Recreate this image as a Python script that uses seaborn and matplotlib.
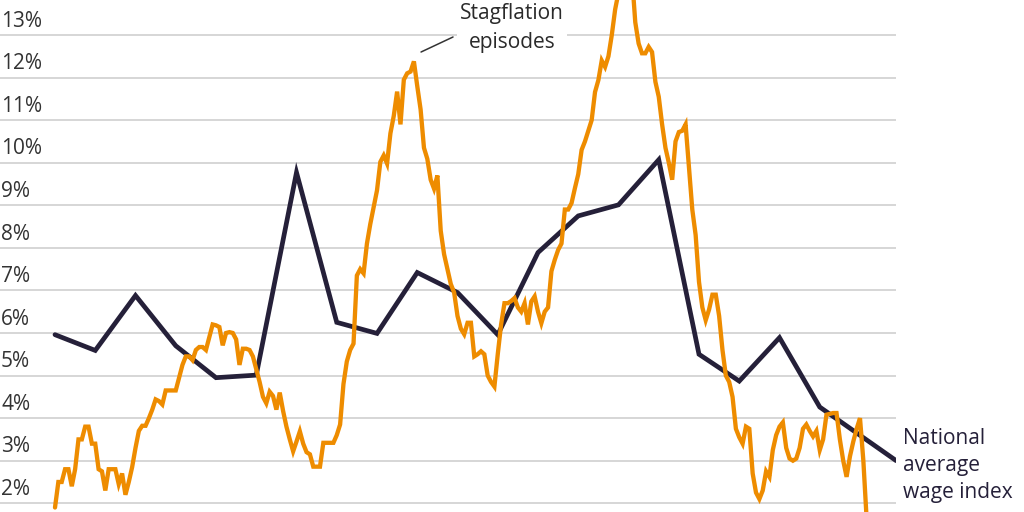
import matplotlib
matplotlib.use("Agg")
import matplotlib.pyplot as plt
import matplotlib.transforms as mtransforms
import numpy as np
import pandas as pd
import seaborn as sns

# year-over-year consumer price change, monthly from Jan 1966
cpi_start = 1966
cpi_monthly = [
    1.9, 2.5, 2.5, 2.8, 2.8, 2.4, 2.8, 3.5, 3.5, 3.8, 3.8, 3.4,            # 1966
    3.4, 2.8, 2.75, 2.3, 2.8, 2.8, 2.8, 2.45, 2.7, 2.2, 2.5, 2.85,         # 1967
    3.3, 3.7, 3.82, 3.82, 4.0, 4.2, 4.44, 4.4, 4.32, 4.65, 4.65, 4.65,     # 1968
    4.65, 4.95, 5.25, 5.45, 5.45, 5.36, 5.6, 5.67, 5.67, 5.6, 5.9, 6.2,    # 1969
    6.18, 6.14, 5.71, 6.0, 6.02, 6.0, 5.85, 5.25, 5.63, 5.63, 5.6, 5.45,   # 1970
    5.15, 4.85, 4.5, 4.35, 4.62, 4.52, 4.2, 4.6, 4.17, 3.8, 3.5, 3.22,     # 1971
    3.45, 3.69, 3.4, 3.2, 3.15, 2.86, 2.86, 2.86, 3.42, 3.42, 3.42, 3.42,  # 1972
    3.6, 3.85, 4.8, 5.33, 5.6, 5.75, 7.35, 7.5, 7.4, 8.1, 8.56, 8.95,      # 1973
    9.35, 10.02, 10.17, 9.98, 10.69, 11.1, 11.67, 10.9, 11.95, 12.1, 12.14, 12.38,  # 1974
    11.8, 11.25, 10.35, 10.09, 9.6, 9.39, 9.7, 8.4, 7.85, 7.5, 7.15, 6.95,  # 1975
    6.4, 6.1, 5.97, 6.24, 6.24, 5.45, 5.5, 5.57, 5.5, 5.0, 4.85, 4.74,     # 1976
    5.5, 6.2, 6.7, 6.7, 6.75, 6.82, 6.6, 6.5, 6.7, 6.2, 6.74, 6.86,        # 1977
    6.5, 6.23, 6.5, 6.6, 7.45, 7.72, 7.95, 8.1, 8.9, 8.9, 9.05, 9.4,       # 1978
    9.73, 10.3, 10.5, 10.75, 11.0, 11.66, 11.94, 12.4, 12.25, 12.5, 13.0, 13.6,  # 1979
    14.0, 14.3, 14.7, 14.7, 14.4, 13.3, 12.8, 12.57, 12.57, 12.72, 12.6, 11.9,   # 1980
    11.55, 10.9, 10.35, 10.0, 9.6, 10.5, 10.72, 10.75, 10.9, 9.9, 8.9, 8.3,      # 1981
    7.2, 6.6, 6.3, 6.55, 6.9, 6.9, 6.4, 5.6, 5.0, 4.85, 4.5, 3.75,         # 1982
    3.55, 3.4, 3.8, 3.75, 2.7, 2.25, 2.1, 2.3, 2.75, 2.62, 3.25, 3.6,      # 1983
    3.8, 3.9, 3.3, 3.05, 3.0, 3.05, 3.3, 3.75, 3.85, 3.7, 3.57, 3.7,       # 1984
    3.25, 3.5, 4.08, 4.1, 4.12, 4.12, 3.5, 3.0, 2.62, 3.1, 3.45, 3.75,     # 1985
    4.0, 3.0, 1.6,                                                          # 1986
]

# national average wage index, annual growth
wage_years = [1966, 1967, 1968, 1969, 1970, 1971, 1972, 1973, 1974, 1975, 1976,
              1977, 1978, 1979, 1980, 1981, 1982, 1983, 1984, 1985, 1986.9]
wage_growth = [5.96, 5.59, 6.88, 5.70, 4.95, 5.01, 9.77, 6.25, 5.99, 7.42, 6.95,
               5.96, 7.89, 8.75, 9.01, 10.07, 5.50, 4.87, 5.89, 4.26, 3.00]

tick_values = [2, 3, 4, 5, 6, 7, 8, 9, 10, 11, 12, 13]
tick_labels = ["2%", "3%", "4%", "5%", "6%", "7%", "8%", "9%", "10%", "11%", "12%", "13%"]

ORANGE = "#ee8c00"
NAVY = "#252039"
TEXT = "#2a2a2a"

sns.set_style("white")
plt.rcParams["font.family"] = ["Open Sans", "DejaVu Sans"]

fig = plt.figure(figsize=(10.24, 5.12), dpi=100)
ax = fig.add_axes([0, 0, 896 / 1024, 1])

cpi = pd.DataFrame({"year": cpi_start + np.arange(len(cpi_monthly)) / 12,
                    "pct": cpi_monthly})
wage = pd.DataFrame({"year": wage_years, "pct": wage_growth})

sns.lineplot(data=wage, x="year", y="pct", color=NAVY, lw=3.4, ax=ax,
             zorder=3, solid_joinstyle="miter")
sns.lineplot(data=cpi, x="year", y="pct", color=ORANGE, lw=3.1, ax=ax,
             zorder=4, solid_joinstyle="miter")

x0 = 1966 - 55 / 40.25
ax.set_xlim(x0, x0 + 896 / 40.25)
ax.set_ylim(13.822 - 512 / 42.57, 13.822)

ax.set_yticks(tick_values)
ax.grid(axis="y", color="#d3d3d3", lw=1.3, zorder=1)
ax.grid(axis="x", visible=False)
ax.tick_params(left=False, bottom=False, labelleft=False, labelbottom=False)
ax.set_xlabel("")
ax.set_ylabel("")
sns.despine(ax=ax, left=True, bottom=True)

lab_trans = mtransforms.offset_copy(ax.get_yaxis_transform(), fig=fig,
                                    x=1, y=8.3, units="dots")
for v, lab in zip(tick_values, tick_labels):
    ax.text(0, v, lab, transform=lab_trans, ha="left", va="baseline",
            fontsize=15, color="#333333", zorder=5)

# va="baseline" anchors the last line of a multi-line text
ax.text(1977.354, 12.687, "Stagflation\nepisodes", ha="center", va="baseline",
        fontsize=15, color=TEXT, linespacing=1.5, zorder=6,
        bbox=dict(facecolor="white", edgecolor="none", pad=2))
ax.plot([1975.094, 1975.889], [12.60, 12.953], color="#333333", lw=1.1, zorder=6)

ax.text(1987.069, 2.124, "National\naverage\nwage index", ha="left",
        va="baseline", fontsize=15, color=NAVY, linespacing=1.37, clip_on=False)

fig.savefig("out.png", dpi=100)
